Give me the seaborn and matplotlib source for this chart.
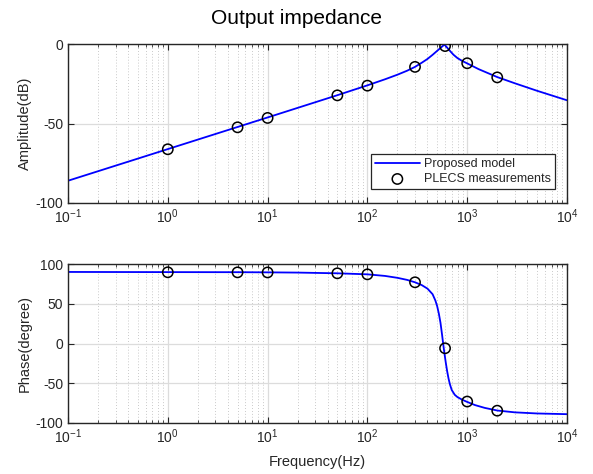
import numpy as np
import pandas as pd
import seaborn as sns
import matplotlib.pyplot as plt
from matplotlib.ticker import LogLocator, NullFormatter

# model curve
freq_amp = [0.1, 1, 10, 50, 100, 150, 200, 250, 300, 350, 400, 450, 500, 540,
            570, 580, 595, 610, 640, 680, 730, 800, 900, 1000, 1300, 2000,
            3000, 5000, 10000]
amp_model = [-86.0, -66.1, -46.2, -32.2, -26.0, -22.2, -19.3, -16.8, -14.4,
             -11.8, -9.4, -6.8, -4.3, -2.5, -1.2, -0.8, -0.5, -1.3, -2.8,
             -4.7, -6.8, -8.9, -10.8, -12.2, -15.8, -20.8, -24.7, -29.4, -35.4]

freq_ph = [0.1, 1, 5, 10, 20, 50, 100, 150, 200, 250, 300, 350, 400, 450, 480,
           500, 520, 540, 560, 574, 590, 610, 630, 650, 670, 700, 750, 800,
           900, 1000, 1200, 1500, 2000, 3000, 5000, 10000]
phase_model = [90, 89.8, 89.7, 89.5, 89.2, 88.3, 87, 85, 82.6, 80, 77, 73.5,
               69, 62, 54, 47, 37.5, 26, 11, 0, -11.5, -24, -35, -44, -51,
               -58.5, -64.5, -67.5, -71, -73.5, -77.5, -81, -84.3, -86.6,
               -88, -88.9]

# PLECS measurement points
freq_meas = [1, 5, 10, 50, 100, 300, 600, 1000, 2000]
amp_meas = [-66.2, -52.4, -46.5, -32.3, -26.2, -14.4, -1.3, -12.1, -21.0]
phase_meas = [89.6, 89.5, 89.4, 88.3, 87.0, 77.0, -6.0, -73.0, -84.5]

sns.set_theme(style="ticks")
plt.rcParams['font.family'] = ['Liberation Sans', 'DejaVu Sans']
plt.rcParams['mathtext.fontset'] = 'custom'
plt.rcParams['mathtext.rm'] = 'Liberation Sans'
plt.rcParams['mathtext.it'] = 'Liberation Sans:italic'
plt.rcParams['axes.unicode_minus'] = False

DARK = '#262626'

df_amp = pd.DataFrame({'f': freq_amp, 'v': amp_model})
df_ph = pd.DataFrame({'f': freq_ph, 'v': phase_model})
df_meas = pd.DataFrame({'f': freq_meas, 'amp': amp_meas, 'ph': phase_meas})

fig = plt.figure(figsize=(5.93, 4.74), dpi=100)
W, H = 593, 474
ax1 = fig.add_axes([68 / W, 1 - 203 / H, 499 / W, 159 / H])
ax2 = fig.add_axes([68 / W, 1 - 423 / H, 499 / W, 159 / H])


def style_axis(ax, ylim, yticks, ylabel):
    ax.set_xscale('log')
    ax.set_xlim(0.1, 1e4)
    ax.set_ylim(*ylim)
    ax.set_yticks(yticks)
    ax.xaxis.set_major_locator(LogLocator(base=10, numticks=10))
    ax.xaxis.set_minor_locator(LogLocator(base=10, subs=np.arange(2, 10), numticks=20))
    ax.xaxis.set_minor_formatter(NullFormatter())
    ax.grid(True, which='major', color='#dcdcdc', linewidth=0.9, linestyle='-')
    ax.grid(True, which='minor', axis='x', color='#b8b8b8', linewidth=0.6,
            linestyle=(0, (1, 2.5)))
    ax.set_axisbelow(True)
    for sp in ax.spines.values():
        sp.set_color(DARK)
        sp.set_linewidth(1.0)
        sp.set_visible(True)
    ax.tick_params(which='both', direction='in', top=True, right=True,
                   colors=DARK, labelsize=10, labelcolor=DARK)
    ax.tick_params(which='major', length=4, width=0.8)
    ax.tick_params(which='minor', length=2.5, width=0.6)
    ax.set_ylabel(ylabel, fontsize=10.5, color=DARK)
    ax.yaxis.set_label_coords((32 - 68) / 499, 0.5)
    ax.set_xlabel('')


# amplitude
sns.lineplot(data=df_amp, x='f', y='v', ax=ax1, color='#0000ff', linewidth=1.3,
             label='Proposed model', sort=False)
sns.scatterplot(data=df_meas, x='f', y='amp', ax=ax1, marker='o', s=55,
                facecolor='none', edgecolor='black', linewidth=1.1,
                label='PLECS measurements', zorder=5)
style_axis(ax1, (-100, 0), [-100, -50, 0], 'Amplitude(dB)')
leg = ax1.legend(loc='lower right', bbox_to_anchor=((555 - 68) / 499, (203 - 189) / 159),
                 borderaxespad=0, fontsize=9, frameon=True, fancybox=False,
                 handlelength=3.6, handletextpad=0.35, borderpad=0.3,
                 labelspacing=0.25, edgecolor=DARK, framealpha=1)
leg.get_frame().set_linewidth(0.9)

# phase
sns.lineplot(data=df_ph, x='f', y='v', ax=ax2, color='#0000ff', linewidth=1.3,
             sort=False, legend=False)
sns.scatterplot(data=df_meas, x='f', y='ph', ax=ax2, marker='o', s=55,
                facecolor='none', edgecolor='black', linewidth=1.1,
                zorder=5, legend=False)
style_axis(ax2, (-100, 100), [-100, -50, 0, 50, 100], 'Phase(degree)')
ax2.set_xlabel('Frequency(Hz)', fontsize=10.5, color=DARK, labelpad=6)

fig.text(0.5, 1 - 18 / H, 'Output impedance', ha='center', va='center',
         fontsize=15, color='black')

fig.savefig('out.png', dpi=100)
